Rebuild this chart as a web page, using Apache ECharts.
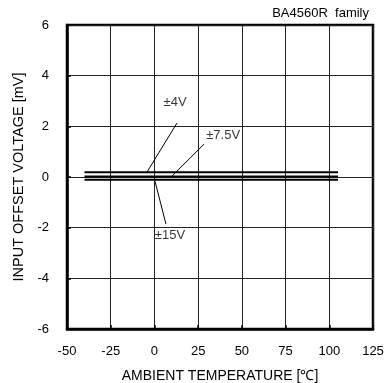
<!DOCTYPE html>
<html><head><meta charset="utf-8">
<script src="https://cdn.jsdelivr.net/npm/echarts@6/dist/echarts.min.js"></script>
<style>html,body{margin:0;padding:0;background:#fff}#c{width:384px;height:383px}</style>
</head><body><div id="c"></div>
<script>
var seriesNames = ['±4V', '±7.5V', '±15V'];
var tempRange = [-40, 105];
var offsetValues = [0.19, 0.02, -0.11];
var xTicks = [-50, -25, 0, 25, 50, 75, 100, 125];
var yTicks = [-6, -4, -2, 0, 2, 4, 6];
var leaderLines = [
  [[12.9, 2.13], [-4.2, 0.2]],
  [[28.4, 1.3], [10.1, 0.04]],
  [[0.3, -0.16], [6.6, -1.86]]
];
var labelPos = [[11.8, 2.96], [39.3, 1.66], [8.9, -2.29]];

var font = 'Liberation Sans, Arial, sans-serif';
var series = [];
seriesNames.forEach(function (n, i) {
  series.push({
    type: 'line', name: n, symbol: 'none', silent: true,
    data: [[tempRange[0], offsetValues[i]], [tempRange[1], offsetValues[i]]],
    lineStyle: { color: '#000', width: 2 }
  });
  series.push({
    type: 'line', symbol: 'none', silent: true,
    data: leaderLines[i],
    lineStyle: { color: '#000', width: 1 }
  });
  series.push({
    type: 'scatter', symbolSize: 0, silent: true,
    data: [labelPos[i]],
    label: { show: true, position: 'inside', formatter: n, color: '#000', fontSize: 13, fontFamily: font }
  });
});

var chart = echarts.init(document.getElementById('c'));
chart.setOption({
  animation: false,
  grid: { left: 67, right: 11, top: 25, bottom: 54, show: true, borderColor: '#000', borderWidth: 2.5, outerBoundsMode: 'none', containLabel: false },
  graphic: [{ type: 'text', right: 15, top: 7, style: { text: 'BA4560R  family', fill: '#000', font: '13px ' + font } }],
  xAxis: {
    type: 'value', min: xTicks[0], max: xTicks[xTicks.length - 1], interval: 25,
    name: 'AMBIENT TEMPERATURE [℃]', nameLocation: 'middle', nameGap: 40,
    nameTextStyle: { color: '#000', fontSize: 14, fontFamily: font },
    axisLine: { onZero: false, lineStyle: { color: '#000', width: 2.5 } },
    axisTick: { inside: true, length: 4, lineStyle: { color: '#000', width: 1.5 } },
    axisLabel: { color: '#000', fontSize: 13, fontFamily: font, margin: 16 },
    splitLine: { show: true, lineStyle: { color: '#222', width: 1 } }
  },
  yAxis: {
    type: 'value', min: yTicks[0], max: yTicks[yTicks.length - 1], interval: 2,
    name: 'INPUT OFFSET VOLTAGE [mV]', nameLocation: 'middle', nameGap: 40,
    nameTextStyle: { color: '#000', fontSize: 14.5, fontFamily: font },
    axisLine: { onZero: false, lineStyle: { color: '#000', width: 2.5 } },
    axisTick: { inside: true, length: 4, lineStyle: { color: '#000', width: 1.5 } },
    axisLabel: { color: '#000', fontSize: 13, fontFamily: font, margin: 18 },
    splitLine: { show: true, lineStyle: { color: '#222', width: 1 } }
  },
  series: series
});
</script></body></html>
